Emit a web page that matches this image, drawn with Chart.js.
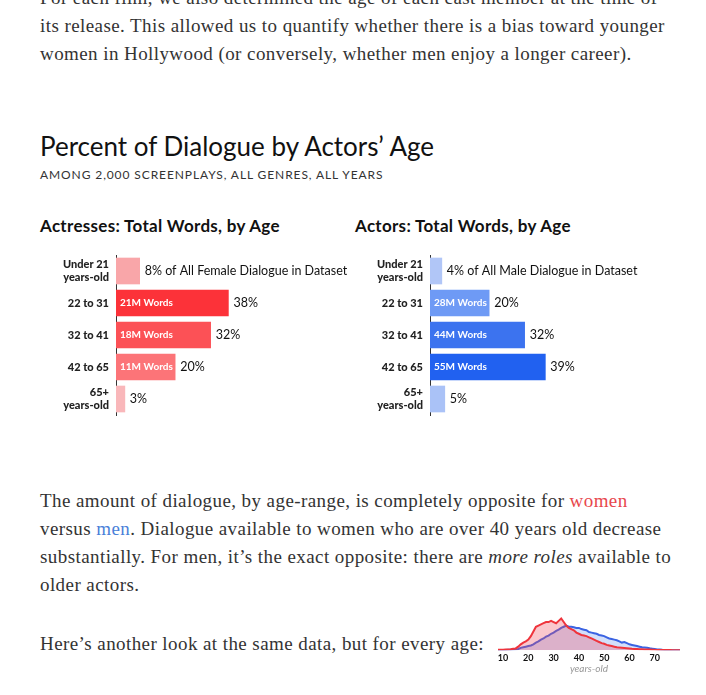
<!DOCTYPE html>
<html>
<head>
<meta charset="utf-8">
<script src="https://cdn.jsdelivr.net/npm/chart.js@4.4.1/dist/chart.umd.min.js"></script>
<style>
  html, body { margin: 0; padding: 0; background: #fff; }
  body { width: 706px; height: 695px; position: relative; overflow: hidden; }
  .txt { position: absolute; left: 40px; font-family: "Liberation Serif", serif; font-size: 19px;
         letter-spacing: 0.42px; line-height: 28px; color: #333; white-space: nowrap; }
  .txt .w { color: #e8474d; }
  .txt .m { color: #4a7fd9; }
  .title { position: absolute; left: 40px; top: 130px; font-family: Lato, sans-serif; font-size: 26px;
           color: #111; white-space: nowrap; }
  .sub { position: absolute; left: 40px; top: 167px; font-family: Lato, sans-serif; font-size: 12px;
         letter-spacing: 0.9px; color: #333; white-space: nowrap; }
  .ctitle { position: absolute; top: 215px; font-family: Lato, sans-serif; font-weight: bold; font-size: 17px;
            letter-spacing: 0.3px; color: #111; white-space: nowrap; }
  .box { position: absolute; }
</style>
</head>
<body>
<div class="txt" style="top:-16px">For each film, we also determined the age of each cast member at the time of<br>its release. This allowed us to quantify whether there is a bias toward younger<br>women in Hollywood (or conversely, whether men enjoy a longer career).</div>

<div class="title">Percent of Dialogue by Actors’ Age</div>
<div class="sub">AMONG 2,000 SCREENPLAYS, ALL GENRES, ALL YEARS</div>

<div class="ctitle" style="left:40px">Actresses: Total Words, by Age</div>
<div class="ctitle" style="left:355px">Actors: Total Words, by Age</div>

<div class="box" style="left:40px; top:249px; width:320px; height:172px"><canvas id="female"></canvas></div>
<div class="box" style="left:354px; top:249px; width:320px; height:172px"><canvas id="male"></canvas></div>

<div class="txt" style="top:487px">The amount of dialogue, by age-range, is completely opposite for <span class="w">women</span><br>versus <span class="m">men</span>. Dialogue available to women who are over 40 years old decrease<br>substantially. For men, it’s the exact opposite: there are <i>more roles</i> available to<br>older actors.</div>

<div class="txt" style="top:630px">Here’s another look at the same data, but for every age:</div>

<div class="box" style="left:480px; top:609px; width:210px; height:66px"><canvas id="ages"></canvas></div>

<script>
// age groups and share of each gender's dialogue (%)
const ageGroups = [['Under 21', 'years-old'], '22 to 31', '32 to 41', '42 to 65', ['65+', 'years-old']];
const femaleShare = [8, 38, 32, 20, 3];
const maleShare = [4, 20, 32, 39, 5];
const femaleWords = ['', '21M Words', '18M Words', '11M Words', ''];
const maleWords = ['', '28M Words', '44M Words', '55M Words', ''];

// every-age distribution (ages 8 to 80)
const ages = [8, 9, 10, 11, 12, 13, 14, 15, 16, 17, 18, 19, 20, 21, 22, 23, 24, 25, 26, 27, 28, 29,
  30, 31, 32, 33, 34, 35, 36, 37, 38, 39, 40, 41, 42, 43, 44, 45, 46, 47, 48, 49, 50, 51, 52, 53,
  54, 55, 56, 57, 58, 59, 60, 61, 62, 63, 64, 65, 66, 67, 68, 69, 70, 71, 72, 73, 74, 75, 76, 77, 78, 79, 80];
const femaleByAge = [0.3, 0.3, 0.4, 0.5, 0.6, 0.8, 1.2, 1.5, 3, 5, 6.5, 7.5, 9, 12, 16, 20, 21, 22, 23, 24, 24, 25,
  24, 23, 25, 27, 24, 21, 19, 18, 17, 15, 14, 13, 12.5, 12, 11, 10, 9, 8, 7, 6, 5.5, 4.5, 4, 3.5,
  3, 2.5, 2.2, 2, 1.8, 1.6, 1.4, 1.2, 1.1, 1, 0.9, 0.8, 0.7, 0.6, 0.5, 0.4, 0.3, 0.25, 0.2, 0.2, 0.15, 0.1, 0.1, 0.05, 0, 0, 0];
const maleByAge = [0, 0, 0.1, 0.2, 0.3, 0.4, 0.5, 0.7, 1, 2, 2.5, 3, 3.5, 4, 5, 6.5, 7.5, 9, 10, 11.5, 12.5, 14,
  15, 16.5, 17.5, 19, 20, 21, 20, 20, 19.5, 19, 19, 18, 17.5, 17, 15.5, 15, 14.5, 14, 13, 12.5, 12, 11, 10, 9.5,
  9, 8.5, 7.5, 6.5, 7, 6, 5, 4.5, 4, 3.5, 3, 2.5, 2.3, 2, 1.6, 1.3, 1, 0.7, 0.5, 0.3, 0.2, 0.1, 0, 0, 0, 0, 0];
const ageTicks = [10, 20, 30, 40, 50, 60, 70];

const labelFont = 'Lato, sans-serif';

// draws "xxM Words" inside the bar and the percentage after it
const barLabels = {
  id: 'barLabels',
  afterDatasetsDraw(chart, args, opts) {
    const ctx = chart.ctx;
    const bars = chart.getDatasetMeta(0).data;
    const values = chart.data.datasets[0].data;
    ctx.save();
    ctx.textBaseline = 'middle';
    bars.forEach((bar, i) => {
      if (opts.inside[i]) {
        ctx.font = 'bold 10px ' + labelFont;
        ctx.fillStyle = '#fff';
        ctx.textAlign = 'left';
        ctx.fillText(opts.inside[i], bar.base + 4, bar.y);
      }
      ctx.font = '12.5px ' + labelFont;
      ctx.fillStyle = '#111';
      ctx.textAlign = 'left';
      let txt = values[i] + '%';
      if (i === 0) txt += ' of All ' + opts.who + ' Dialogue in Dataset';
      ctx.fillText(txt, bar.x + 5, bar.y);
    });
    ctx.restore();
  }
};

function makeBars(id, values, words, who, colors) {
  return new Chart(document.getElementById(id), {
    type: 'bar',
    data: {
      labels: ageGroups,
      datasets: [{
        data: values,
        backgroundColor: colors,
        barThickness: 26
      }]
    },
    options: {
      indexAxis: 'y',
      responsive: true,
      maintainAspectRatio: false,
      animation: false,
      layout: { padding: { top: 6, bottom: 6 } },
      plugins: {
        legend: { display: false },
        tooltip: { enabled: false },
        barLabels: { inside: words, who: who }
      },
      scales: {
        x: { display: false, min: 0, max: 82.5 },
        y: {
          afterFit(axis) {
            axis.width = 76;
            axis.paddingTop = 0;
            axis.paddingBottom = 0;
          },
          grid: { display: false, drawTicks: false },
          border: { display: true, color: '#333', width: 1 },
          ticks: {
            padding: 7,
            color: '#222',
            font: { family: labelFont, weight: '900', size: 11 }
          }
        }
      }
    },
    plugins: [barLabels]
  });
}

makeBars('female', femaleShare, femaleWords, 'Female',
  ['#f9a6a9', '#fc3239', '#fc5156', '#fc7478', '#f9b7ba']);
makeBars('male', maleShare, maleWords, 'Male',
  ['#b1c6f7', '#6e9af5', '#3c73ef', '#2161f0', '#aac2f7']);

new Chart(document.getElementById('ages'), {
  type: 'line',
  data: {
    labels: ages,
    datasets: [
      {
        data: femaleByAge,
        borderColor: '#ef343c',
        backgroundColor: 'rgba(240, 70, 90, 0.3)',
        borderWidth: 2,
        fill: 'origin',
        pointRadius: 0,
        tension: 0
      },
      {
        data: maleByAge,
        borderColor: '#3b63e2',
        backgroundColor: 'rgba(110, 150, 240, 0.3)',
        borderWidth: 2,
        fill: 'origin',
        pointRadius: 0,
        tension: 0
      }
    ]
  },
  options: {
    responsive: true,
    maintainAspectRatio: false,
    animation: false,
    layout: { padding: { top: 6, left: 18, right: 10 } },
    plugins: { legend: { display: false }, tooltip: { enabled: false } },
    scales: {
      x: {
        type: 'linear',
        min: 8,
        max: 80,
        afterBuildTicks(axis) { axis.ticks = ageTicks.map(v => ({ value: v })); },
        grid: { display: false, drawTicks: false },
        border: { display: false },
        ticks: { padding: 2, color: '#111', maxRotation: 0, font: { family: labelFont, weight: 'bold', size: 9 } },
        title: {
          display: true,
          text: 'years-old',
          color: '#999',
          padding: { top: -2, bottom: 0 },
          font: { family: labelFont, style: 'italic', size: 10 }
        }
      },
      y: { display: false, min: 0, max: 30 }
    }
  }
});
</script>
</body>
</html>
